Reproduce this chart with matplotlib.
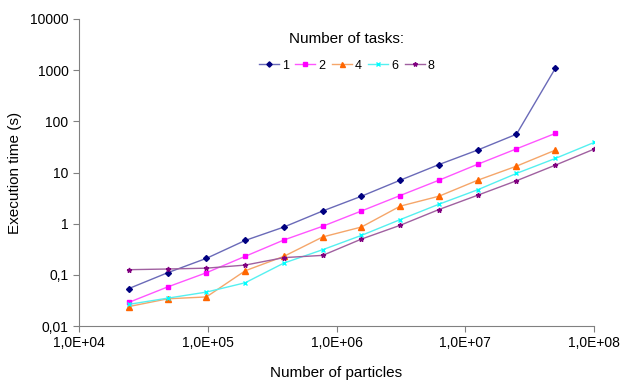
import numpy as np
import matplotlib
matplotlib.use("Agg")
import matplotlib.pyplot as plt
from matplotlib.ticker import FuncFormatter, FixedLocator, NullLocator

plt.rcParams.update({"font.family": ["Liberation Sans", "DejaVu Sans"], "font.size": 10})

# particles: 1e8 / 2^k
particles = [24414, 48828, 97656, 195313, 390625, 781250, 1562500, 3125000,
             6250000, 12500000, 25000000, 50000000, 100000000]
t1 = [0.054, 0.11, 0.21, 0.47, 0.86, 1.77, 3.44, 7.07, 14.3, 27.5, 56, 1080]
t2 = [0.029, 0.058, 0.11, 0.23, 0.48, 0.89, 1.77, 3.55, 7.07, 14.5, 29, 58]
t4 = [0.024, 0.034, 0.037, 0.12, 0.23, 0.55, 0.86, 2.2, 3.44, 7.07, 13.3, 27.3]
t6 = [0.0265, 0.035, 0.046, 0.07, 0.17, 0.31, 0.59, 1.2, 2.4, 4.6, 9.6, 18.8, 38.6]
t8 = [0.126, 0.13, 0.135, 0.155, 0.217, 0.24, 0.50, 0.93, 1.89, 3.6, 6.9, 13.9, 28.6]

series = [("1", t1, "#000080", "#6A6AB8", "D", 3.0),
          ("2", t2, "#FF00FF", "#FF55FF", "s", 3.5),
          ("4", t4, "#FF6600", "#F5A66A", "^", 4.0),
          ("6", t6, "#00FFFF", "#55F0F0", "x", 3.0),
          ("8", t8, "#800080", "#A060A0", "*", 3.5)]

fig = plt.figure(figsize=(6.23, 3.81), dpi=100)
ax = fig.add_axes([79/623, 1-326/381, 515/623, 307/381])

for name, vals, mc, lc, mk, ms in series:
    ax.plot(particles[:len(vals)], vals, color=lc, lw=1.0, marker=mk, ms=ms,
            mfc=mc, mec=mc, mew=1.0, label=name)

ax.set_xscale("log"); ax.set_yscale("log")
ax.set_xlim(1e4, 1e8); ax.set_ylim(0.01, 10000)
ax.xaxis.set_major_locator(FixedLocator([1e4, 1e5, 1e6, 1e7, 1e8]))
ax.yaxis.set_major_locator(FixedLocator([0.01, 0.1, 1, 10, 100, 1000, 10000]))
ax.xaxis.set_minor_locator(NullLocator()); ax.yaxis.set_minor_locator(NullLocator())
ax.xaxis.set_major_formatter(FuncFormatter(lambda v, p: "1,0E+%02d" % round(np.log10(v))))
ax.yaxis.set_major_formatter(FuncFormatter(lambda v, p: ("%g" % v).replace(".", ",")))
for s in ["top", "right"]:
    ax.spines[s].set_visible(False)
for s in ["left", "bottom"]:
    ax.spines[s].set_color("#808080")
ax.tick_params(colors="#808080", labelcolor="black", length=4, labelsize=10)
ax.set_ylabel("Execution time (s)", fontsize=11, labelpad=6)
ax.set_xlabel("Number of particles", fontsize=11, labelpad=11)

leg = ax.legend(title="Number of tasks:", ncol=5, frameon=False, loc="upper center",
                bbox_to_anchor=(0.52, 0.995), handlelength=1.6, handletextpad=0.25,
                columnspacing=0.5, fontsize=9, title_fontsize=11, markerscale=0.9)
leg._legend_box.sep = 10

fig.savefig("out.png", dpi=100)
